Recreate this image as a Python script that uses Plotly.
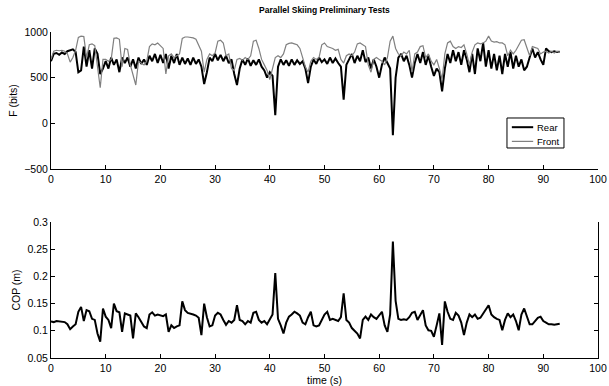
import numpy as np
import plotly.graph_objects as go
from plotly.subplots import make_subplots

time_s = [i * 0.5 for i in range(187)]  # 0 .. 93 s

rear_bits = [
    680, 760, 770, 750, 775, 760, 790, 800, 810, 780,
    560, 580, 840, 620, 800, 600, 820, 760, 540, 600,
    680, 600, 720, 640, 700, 560, 720, 660, 720, 620,
    700, 600, 720, 650, 700, 640, 740, 680, 760, 660,
    750, 660, 760, 600, 740, 660, 760, 640, 720, 650,
    710, 640, 720, 650, 700, 620, 430, 560, 720, 680,
    760, 690, 750, 680, 740, 660, 700, 540, 420, 600,
    700, 640, 710, 630, 690, 640, 700, 620, 580, 500,
    560, 520, 90, 620, 700, 640, 690, 630, 700, 640,
    690, 650, 680, 600, 440, 620, 700, 650, 720, 670,
    700, 650, 720, 660, 710, 660, 620, 260, 640, 700,
    760, 660, 740, 680, 800, 670, 720, 600, 700, 620,
    500, 640, 720, 660, 600, -130, 500, 720, 760, 680,
    740, 640, 500, 660, 760, 660, 780, 640, 740, 620,
    520, 600, 560, 350, 600, 760, 660, 800, 680, 780,
    640, 800, 700, 560, 760, 540, 820, 680, 880, 620,
    800, 600, 760, 580, 740, 540, 760, 620, 780, 600,
    740, 620, 700, 580, 620, 720, 820, 720, 780, 700,
    640, 820, 790, 780, 790, 780, 785,
]

front_bits = [
    700, 790, 800, 795, 800, 790, 760, 670, 720, 800,
    940, 955, 950, 720, 860, 870, 850, 620, 390, 700,
    700, 680, 700, 930, 935, 920, 620, 820, 810, 640,
    520, 420, 680, 660, 640, 680, 840, 870, 860, 880,
    850, 820, 540, 740, 760, 720, 740, 760, 930, 945,
    945, 940, 935, 920, 860, 790, 560, 700, 760, 740,
    770, 900, 910, 880, 740, 760, 600, 580, 700, 710,
    690, 720, 700, 740, 900, 910, 820, 700, 640, 580,
    480, 600, 720, 740, 720, 760, 860, 875, 880, 870,
    860, 820, 720, 620, 560, 680, 720, 700, 720, 860,
    880, 840, 830, 820, 800, 810, 700, 660, 740, 760,
    740, 780, 870, 880, 860, 840, 640, 560, 700, 720,
    700, 680, 640, 720, 900, 955, 820, 760, 740, 780,
    760, 800, 560, 760, 780, 840, 850, 720, 760, 680,
    640, 700, 600, 480, 760, 880, 900, 840, 820, 840,
    830, 860, 760, 640, 780, 860, 880, 870, 880, 900,
    955, 900, 890, 895, 880, 880, 860, 740, 800, 760,
    800, 860, 910, 915, 820, 740, 840, 830, 820, 760,
    780, 790, 770, 790, 770, 790, 775,
]

cop_m = [
    0.117, 0.116, 0.118, 0.117, 0.117, 0.116, 0.112, 0.103, 0.108, 0.112,
    0.135, 0.144, 0.118, 0.138, 0.136, 0.122, 0.120, 0.095, 0.080, 0.141,
    0.126, 0.120, 0.105, 0.150, 0.136, 0.134, 0.098, 0.132, 0.130, 0.128,
    0.086, 0.132, 0.125, 0.115, 0.108, 0.105, 0.130, 0.134, 0.128, 0.130,
    0.128, 0.127, 0.130, 0.098, 0.110, 0.105, 0.108, 0.110, 0.154, 0.138,
    0.133, 0.132, 0.130, 0.128, 0.124, 0.092, 0.150, 0.125, 0.108, 0.110,
    0.128, 0.133, 0.130, 0.120, 0.111, 0.118, 0.115, 0.120, 0.147, 0.120,
    0.118, 0.112, 0.118, 0.115, 0.133, 0.135, 0.120, 0.115, 0.118, 0.112,
    0.120, 0.130, 0.206, 0.122, 0.110, 0.095, 0.115, 0.126, 0.130, 0.135,
    0.132, 0.128, 0.115, 0.112, 0.125, 0.135, 0.110, 0.108, 0.110, 0.120,
    0.130, 0.135, 0.120, 0.122, 0.120, 0.118, 0.125, 0.169, 0.120, 0.115,
    0.105, 0.100, 0.095, 0.086, 0.120, 0.126, 0.120, 0.130, 0.125, 0.122,
    0.128, 0.135, 0.110, 0.098, 0.130, 0.264, 0.155, 0.122, 0.120, 0.121,
    0.120, 0.125, 0.133, 0.135, 0.120, 0.128, 0.138, 0.110, 0.101, 0.100,
    0.089, 0.110, 0.132, 0.074, 0.154, 0.135, 0.122, 0.120, 0.133, 0.128,
    0.115, 0.092, 0.115, 0.130, 0.125, 0.130, 0.122, 0.124, 0.132, 0.138,
    0.147, 0.130, 0.125, 0.122, 0.120, 0.101, 0.120, 0.132, 0.125, 0.130,
    0.118, 0.101, 0.130, 0.141, 0.125, 0.112, 0.112, 0.118, 0.124, 0.126,
    0.118, 0.115, 0.112, 0.112, 0.111, 0.112, 0.113,
]

series_names = ["Rear", "Front"]
x_ticks = [0, 10, 20, 30, 40, 50, 60, 70, 80, 90, 100]
f_ticks = [-500, 0, 500, 1000]
cop_ticks = [0.05, 0.1, 0.15, 0.2, 0.25, 0.3]

FONT = "Liberation Sans, Arial, Helvetica, sans-serif"
REAR_COLOR = "black"
FRONT_COLOR = "#808080"

fig = make_subplots(rows=2, cols=1, vertical_spacing=0.0)

fig.add_trace(go.Scatter(x=time_s, y=rear_bits, mode="lines", name=series_names[0],
                         showlegend=False, line=dict(color=REAR_COLOR, width=2)), row=1, col=1)
fig.add_trace(go.Scatter(x=time_s, y=front_bits, mode="lines", name=series_names[1],
                         showlegend=False, line=dict(color=FRONT_COLOR, width=1.2)), row=1, col=1)
fig.add_trace(go.Scatter(x=time_s, y=cop_m, mode="lines", showlegend=False,
                         line=dict(color="black", width=2)), row=2, col=1)

axis_common = dict(showline=True, linecolor="black", linewidth=1, ticks="inside",
                   ticklen=4, tickcolor="black", showgrid=False, zeroline=False,
                   automargin=False,
                   tickfont=dict(family=FONT, size=10.5, color="black"))

fig.update_xaxes(range=[0, 100], tickvals=x_ticks, **axis_common)
fig.update_yaxes(**axis_common)

# legend box (drawn in paper coordinates of the top axes)
shapes = [
    dict(type="rect", xref="paper", yref="paper", x0=0.8336, x1=0.9378, y0=0.6442, y1=0.7362,
         line=dict(color="black", width=1), fillcolor="white", layer="above"),
    dict(type="line", xref="paper", yref="paper", x0=0.8425, x1=0.8815, y0=0.7080, y1=0.7080,
         line=dict(color=REAR_COLOR, width=2), layer="above"),
    dict(type="line", xref="paper", yref="paper", x0=0.8425, x1=0.8815, y0=0.6645, y1=0.6645,
         line=dict(color=FRONT_COLOR, width=1.2), layer="above"),
]
annotations = [
    dict(xref="paper", yref="paper", x=0.8850, y=0.7080, text=series_names[0], showarrow=False,
         xanchor="left", yanchor="middle", font=dict(family=FONT, size=9.5, color="black")),
    dict(xref="paper", yref="paper", x=0.8850, y=0.6645, text=series_names[1], showarrow=False,
         xanchor="left", yanchor="middle", font=dict(family=FONT, size=9.5, color="black")),
]

fig.update_layout(
    width=609, height=386,
    margin=dict(l=51, r=11, t=32, b=28, autoexpand=False),
    paper_bgcolor="white", plot_bgcolor="white",
    font=dict(family=FONT, size=10.5, color="black"),
    title=dict(text="<b>Parallel Skiing Preliminary Tests</b>", x=0.5328, xanchor="center",
               xref="container", y=0.974, yref="container", yanchor="middle",
               font=dict(family=FONT, size=8.5, color="black")),
    xaxis=dict(domain=[0, 1], anchor="y"),
    yaxis=dict(domain=[0.5798, 1], range=[-500, 1000], tickvals=f_ticks,
               title=dict(text="F (bits)", standoff=4, font=dict(family=FONT, size=10.5))),
    xaxis2=dict(domain=[0, 1], anchor="y2",
                title=dict(text="time (s)", standoff=2, font=dict(family=FONT, size=10.5))),
    yaxis2=dict(domain=[0, 0.4172], range=[0.05, 0.3], tickvals=cop_ticks, mirror="ticks",
                title=dict(text="COP (m)", standoff=4, font=dict(family=FONT, size=10.5))),
    shapes=shapes,
    annotations=annotations,
    showlegend=False,
    hovermode=False,
)

fig.write_html("out.html",
               config={"displayModeBar": False, "staticPlot": True},
               post_script="document.body.style.margin='0px';document.body.style.overflow='hidden';")
